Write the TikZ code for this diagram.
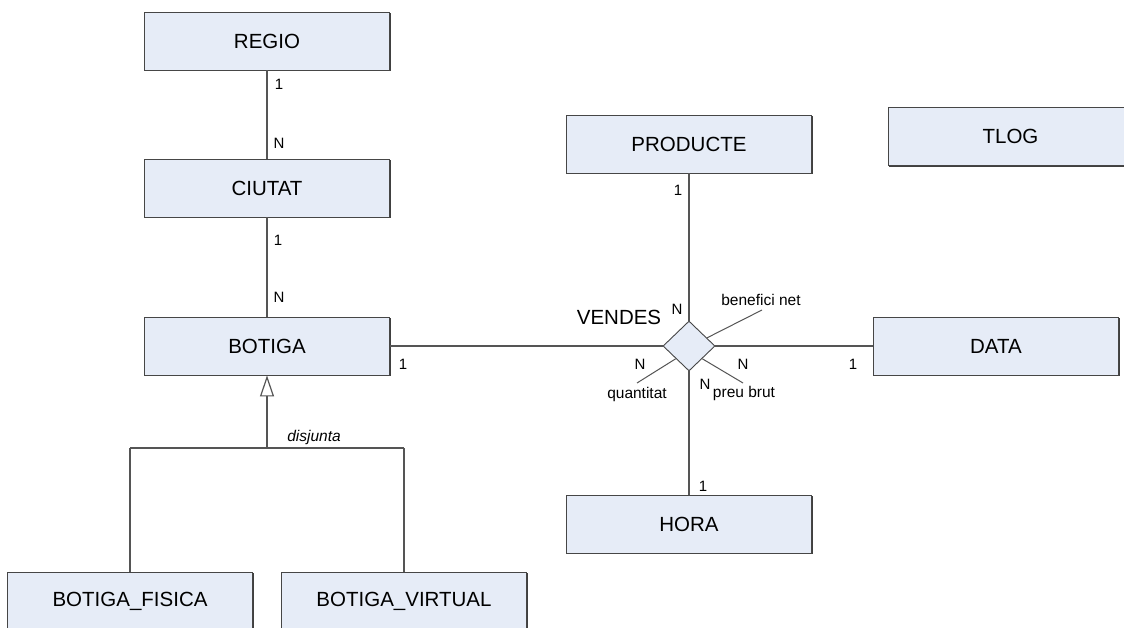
\documentclass[tikz,border=0pt]{standalone}
\usepackage{fontspec}
\setmainfont{Liberation Sans}
\usetikzlibrary{shapes.geometric,arrows.meta,shadows,calc}
\definecolor{boxfill}{RGB}{230,236,247}
\definecolor{boxline}{RGB}{70,70,70}
\definecolor{wire}{RGB}{85,85,85}
\tikzset{
  entity/.style={rectangle, draw=boxline, fill=boxfill, line width=0.9pt,
    minimum width=245pt, minimum height=58pt, inner sep=0pt,
    font=\fontsize{20.5}{22}\selectfont,
    drop shadow={shadow xshift=1.2pt, shadow yshift=-1.2pt, fill=black!75, opacity=1}},
  relation/.style={diamond, draw=boxline, fill=boxfill, line width=0.9pt,
    minimum width=52pt, minimum height=50pt, inner sep=0pt},
  wireline/.style={draw=wire, line width=1.2pt},
  card/.style={inner sep=0pt, font=\fontsize{15}{16}\selectfont},
  attr/.style={inner sep=0pt, font=\fontsize{15.5}{16}\selectfont},
  bigtext/.style={inner sep=0pt, font=\fontsize{20.5}{22}\selectfont}
}
\begin{document}
\begin{tikzpicture}[x=1pt,y=-1pt]
\clip (0,0) rectangle (1124,628);
\fill[white] (0,0) rectangle (1124,628);

% entities
\node[entity] (regio)    at (267,41)    {REGIO};
\node[entity] (ciutat)   at (267,188)   {CIUTAT};
\node[entity] (botiga)   at (267,346)   {BOTIGA};
\node[entity] (producte) at (689,144)   {PRODUCTE};
\node[entity] (tlog)     at (1010.5,136.5) {TLOG};
\node[entity] (data)     at (996,346)   {DATA};
\node[entity] (hora)     at (689,524)   {HORA};
\node[entity] (fisica)   at (130,601)   {BOTIGA\_FISICA};
\node[entity] (virtual)  at (404,601)   {BOTIGA\_VIRTUAL};

% the VENDES relationship
\node[relation] (vendes) at (689,346) {};
\node[bigtext] (vendeslbl) at (619,317) {VENDES};

% relationship lines
\draw[wireline] (regio) -- (ciutat);
\draw[wireline] (ciutat) -- (botiga);
\draw[wireline] (botiga) -- (vendes);
\draw[wireline] (producte) -- (vendes);
\draw[wireline] (vendes) -- (data);
\draw[wireline] (vendes) -- (hora);

% attributes of VENDES
\coordinate (bnetend) at (762,310);
\coordinate (quantend) at (637,383);
\coordinate (pbrutend) at (743,383);
\draw[wireline, line width=1pt] ($(vendes.north)!0.68!(vendes.east)$) -- (bnetend);
\draw[wireline, line width=1pt] ($(vendes.west)!0.5!(vendes.south)$) -- (quantend);
\draw[wireline, line width=1pt] ($(vendes.east)!0.5!(vendes.south)$) -- (pbrutend);
\node[attr] (bnet)  at (761,300) {benefici net};
\node[attr] (quant) at (637,394) {quantitat};
\node[attr] (pbrut) at (744,393) {preu brut};

% cardinalities
\node[card] (c1) at (279,84)  {1};
\node[card] (c2) at (279,143) {N};
\node[card] (c3) at (278,240) {1};
\node[card] (c4) at (279,297) {N};
\node[card] (c5) at (403,364) {1};
\node[card] (c6) at (640,364) {N};
\node[card] (c7) at (678,190) {1};
\node[card] (c8) at (677,309) {N};
\node[card] (c9) at (743,364) {N};
\node[card] (c10) at (853,364) {1};
\node[card] (c11) at (705,384) {N};
\node[card] (c12) at (703,486) {1};

% generalization of BOTIGA
\coordinate (gen)  at (267,448);
\coordinate (genL) at (130,448);
\coordinate (genR) at (404,448);
\draw[wireline] (genL) -- (genR);
\draw[wireline] (genL) -- (fisica);
\draw[wireline] (genR) -- (virtual);
\draw[wireline, -{Triangle[open, length=21pt, width=14pt, line width=1.2pt]}]
  (gen) -- (botiga);
\node[attr, font=\fontsize{15.5}{16}\selectfont\itshape] (disj) at (314,437) {disjunta};
\end{tikzpicture}
\end{document}
